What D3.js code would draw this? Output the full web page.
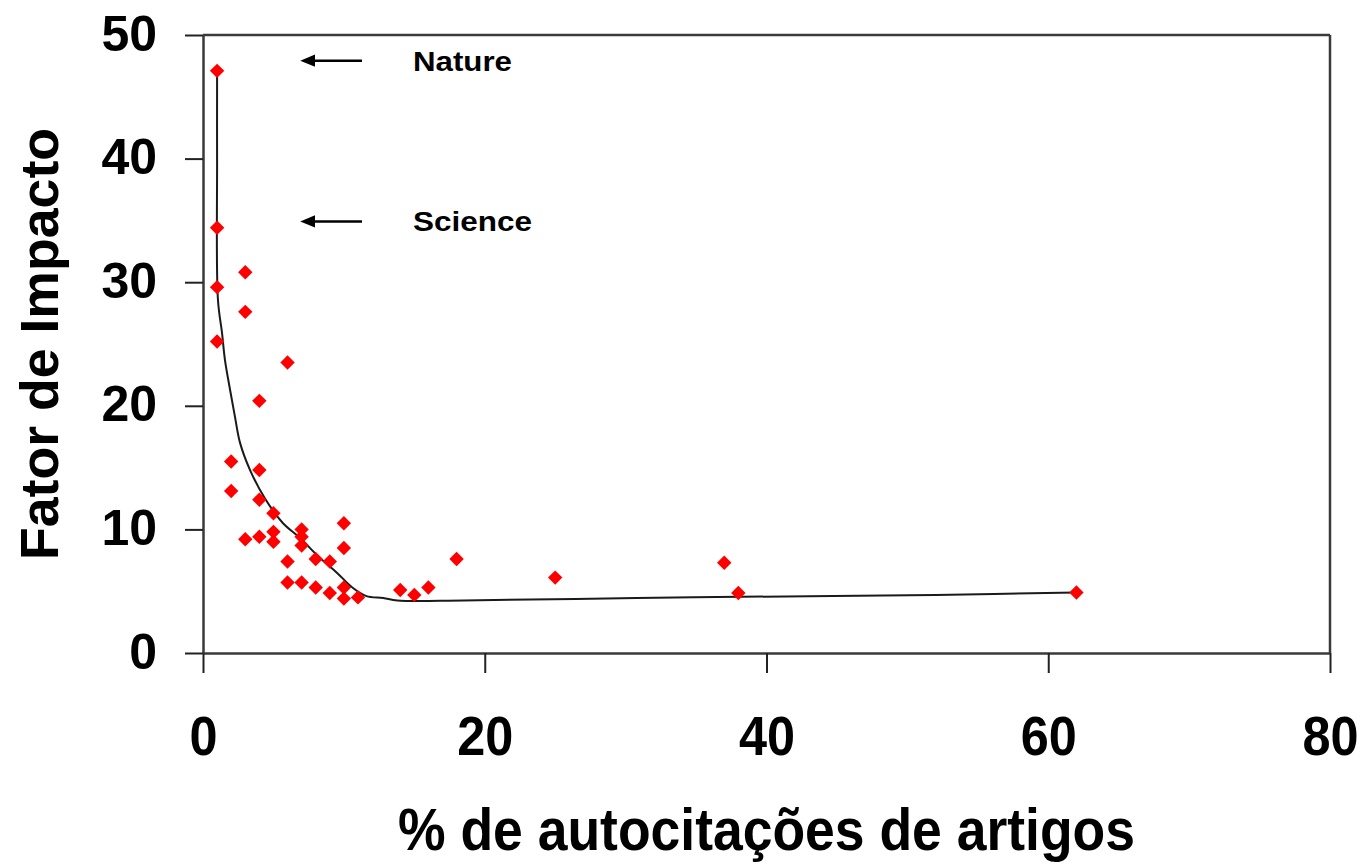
<!DOCTYPE html>
<html>
<head>
<meta charset="utf-8">
<script src="https://d3js.org/d3.v7.min.js"></script>
<style>
  body { margin: 0; background: #fff; }
  text { font-family: "Liberation Sans", Arial, sans-serif; font-weight: bold; fill: #000; }
</style>
</head>
<body>
<script>
'use strict';

// journal points: % self-citations vs impact factor
const selfCitePct = [1, 1, 1, 1, 3, 3, 6, 4, 2, 2, 4, 4, 5, 3, 4, 5, 5, 7, 7, 7, 10, 10,
  6, 8, 9, 6, 7, 8, 9, 10, 10, 11, 14, 15, 16, 18, 25, 37, 38, 62];
const impactFactor = [47.1, 34.4, 29.6, 25.2, 30.8, 27.6, 23.5, 20.4, 15.5, 13.1, 14.8, 12.4, 11.3,
  9.2, 9.4, 9.8, 9.0, 10.0, 9.4, 8.7, 10.5, 8.5, 7.4, 7.6, 7.4, 5.7, 5.7, 5.3, 4.85, 5.3, 4.4, 4.5,
  5.1, 4.7, 5.3, 7.6, 6.1, 7.3, 4.85, 4.9];

// fitted trend line
const fitX = [1, 1, 1.06, 1.35, 1.56, 1.92, 2.27, 2.63, 3.34, 4.4, 5.68, 6.9, 8.1, 9.5, 10.6, 11.6,
  12.8, 13.8, 18.5, 30.8, 43, 52, 62];
const fitY = [47.1, 40, 28.6, 25.9, 23.7, 21.3, 19.1, 17.0, 14.8, 12.5, 10.5, 9.3, 7.9, 6.5, 5.3, 4.6,
  4.45, 4.25, 4.25, 4.45, 4.6, 4.7, 4.9];

const xTicks = [0, 20, 40, 60, 80];
const yTicks = [0, 10, 20, 30, 40, 50];

const notes = [
  { label: 'Nature', value: 48 },
  { label: 'Science', value: 35 }
];

(function() {

  const box = { left: 203, right: 1330, top: 35, bottom: 653 };

  let svg = d3.select('body').append('svg')
    .attr('width', 1364)
    .attr('height', 864);

  let x = d3.scaleLinear().domain([0, 80]).range([box.left, box.right]);
  let y = d3.scaleLinear().domain([0, 50]).range([box.bottom, box.top]);

  drawAxes();
  drawFit();
  drawPoints();
  drawNotes();
  drawTitles();

  function drawAxes() {
    // x axis
    let gx = svg.append('g')
      .attr('transform', 'translate(0,' + box.bottom + ')')
      .call(d3.axisBottom(x).tickValues(xTicks).tickSize(20).tickSizeOuter(0).tickPadding(42));
    gx.selectAll('.tick text')
      .attr('font-size', 56)
      .attr('transform', 'scale(0.9,1)');

    // y axis
    let gy = svg.append('g')
      .attr('transform', 'translate(' + box.left + ',0)')
      .call(d3.axisLeft(y).tickValues(yTicks).tickSize(18).tickSizeOuter(0).tickPadding(28));
    gy.selectAll('.tick text')
      .attr('font-size', 50)
      .attr('dy', '0.3em');

    svg.selectAll('.domain').attr('stroke', '#3a3a3a').attr('stroke-width', 2.5);
    svg.selectAll('.tick line').attr('stroke', '#222').attr('stroke-width', 2);
    svg.selectAll('.tick text').attr('font-family', '"Liberation Sans", Arial, sans-serif')
      .attr('font-weight', 'bold').attr('fill', '#000');

    // top and right frame
    svg.append('line')
      .attr('x1', box.left).attr('x2', box.right)
      .attr('y1', box.top).attr('y2', box.top)
      .attr('stroke', '#3a3a3a').attr('stroke-width', 2.5);
    svg.append('line')
      .attr('x1', box.right).attr('x2', box.right)
      .attr('y1', box.top).attr('y2', box.bottom)
      .attr('stroke', '#3a3a3a').attr('stroke-width', 2.5);
  }

  function drawFit() {
    let pts = fitX.map((d, i) => [d, fitY[i]]);
    let line = d3.line()
      .curve(d3.curveCatmullRom)
      .x(d => x(d[0]))
      .y(d => y(d[1]));
    svg.append('path')
      .datum(pts)
      .attr('d', line)
      .attr('fill', 'none')
      .attr('stroke', '#1a1a1a')
      .attr('stroke-width', 2);
  }

  function drawPoints() {
    let pts = selfCitePct.map((d, i) => [d, impactFactor[i]]);
    let diamond = d3.symbol().type(d3.symbolSquare).size(104);
    svg.selectAll('.dot')
      .data(pts)
      .enter()
      .append('path')
        .attr('class', 'dot')
        .attr('d', diamond)
        .attr('transform', d => 'translate(' + x(d[0]) + ',' + y(d[1]) + ') rotate(45)')
        .attr('fill', '#ff0000');
  }

  function drawNotes() {
    svg.append('defs').append('marker')
      .attr('id', 'head')
      .attr('viewBox', '0 0 12 10')
      .attr('refX', 1).attr('refY', 5)
      .attr('markerWidth', 6).attr('markerHeight', 5)
      .attr('markerUnits', 'strokeWidth')
      .attr('orient', 'auto')
      .append('path')
        .attr('d', 'M0,0 L12,5 L0,10 z')
        .attr('fill', '#000');

    notes.forEach(n => {
      let yy = y(n.value) + 1;
      svg.append('line')
        .attr('x1', 362).attr('x2', 314)
        .attr('y1', yy).attr('y2', yy)
        .attr('stroke', '#000')
        .attr('stroke-width', 2.5)
        .attr('marker-end', 'url(#head)');
      svg.append('text')
        .attr('x', 413)
        .attr('y', yy + 10)
        .attr('font-size', 28)
        .attr('textLength', n.label == 'Nature' ? 99 : 119)
        .attr('lengthAdjust', 'spacingAndGlyphs')
        .text(n.label);
    });
  }

  function drawTitles() {
    svg.append('text')
      .attr('transform', 'translate(58,344) rotate(-90)')
      .attr('text-anchor', 'middle')
      .attr('font-size', 54)
      .attr('textLength', 432)
      .attr('lengthAdjust', 'spacingAndGlyphs')
      .text('Fator de Impacto');

    svg.append('text')
      .attr('x', 398)
      .attr('y', 850)
      .attr('font-size', 60)
      .attr('textLength', 737)
      .attr('lengthAdjust', 'spacingAndGlyphs')
      .text('% de autocitações de artigos');
  }

})();
</script>
</body>
</html>
